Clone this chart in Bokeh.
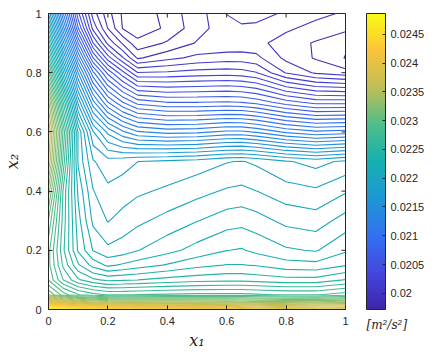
import numpy as np
from bokeh.plotting import figure
from bokeh.models import ColorBar, LinearColorMapper, FixedTicker
from bokeh.embed import file_html
from bokeh.resources import INLINE

# grid coordinates
x1 = [0.0, 0.05, 0.1, 0.15, 0.2, 0.25, 0.3, 0.4, 0.5, 0.6, 0.65, 0.7, 0.8, 0.9, 1.0]
x2 = [0.0, 0.025, 0.05, 0.1, 0.15, 0.2, 0.3, 0.4, 0.5, 0.6, 0.7, 0.8, 0.85, 0.9, 0.95, 1.0]

# field values (units of 1e-4 m^2/s^2), one list per x2 row
r100 = [219.0, 211.5, 205.0, 201.0, 199.2, 197.9, 197.2, 198.5, 199.3, 200.6, 201.2, 201.0, 200.4, 200.0, 199.6]
r095 = [221.5, 213.5, 206.5, 202.0, 199.7, 198.0, 197.5, 198.2, 199.4, 200.2, 200.3, 200.3, 199.9, 199.4, 199.1]
r090 = [224.0, 216.0, 209.0, 204.0, 201.2, 199.6, 198.3, 199.0, 199.8, 199.9, 199.95, 200.0, 199.3, 198.8, 198.2]
r085 = [226.5, 218.5, 211.5, 206.5, 203.5, 201.5, 199.6, 200.3, 200.8, 201.0, 201.0, 200.8, 199.5, 198.8, 198.0]
r080 = [229.3, 221.0, 214.0, 209.2, 206.2, 204.2, 202.3, 202.4, 202.6, 202.7, 202.6, 202.3, 200.5, 199.6, 199.2]
r070 = [234.5, 225.8, 218.0, 213.5, 210.7, 209.0, 207.8, 207.3, 207.3, 207.4, 207.3, 207.0, 206.0, 205.3, 205.3]
r060 = [237.0, 229.0, 221.5, 217.5, 215.5, 214.2, 213.3, 212.9, 213.0, 213.4, 213.4, 213.1, 212.2, 211.7, 211.9]
r050 = [236.0, 228.0, 221.5, 219.2, 218.6, 218.8, 219.1, 219.3, 219.5, 219.9, 220.0, 219.8, 219.2, 218.8, 219.3]
r040 = [233.0, 226.5, 222.3, 220.0, 219.3, 219.5, 219.8, 220.1, 220.5, 220.9, 221.0, 220.8, 220.3, 220.1, 220.7]
r030 = [230.8, 226.3, 222.8, 220.6, 219.9, 220.3, 220.6, 221.1, 221.6, 222.1, 222.2, 222.0, 221.4, 221.2, 222.0]
r020 = [229.5, 226.0, 223.2, 221.6, 221.0, 221.2, 221.6, 222.2, 222.8, 223.3, 223.4, 223.1, 222.6, 222.4, 223.2]
r015 = [229.5, 226.5, 224.3, 223.0, 222.3, 222.6, 222.9, 223.4, 223.9, 224.2, 224.2, 224.1, 223.7, 223.6, 224.1]
r010 = [230.0, 227.5, 226.0, 225.2, 224.8, 224.9, 225.0, 225.3, 225.5, 225.6, 225.6, 225.5, 225.3, 225.3, 225.9]
r005 = [232.5, 230.5, 229.3, 228.7, 228.3, 228.3, 228.4, 228.5, 228.6, 228.6, 228.6, 228.5, 228.3, 228.3, 228.8]
r0025 = [239.5, 237.5, 236.0, 235.2, 234.8, 234.6, 234.5, 234.4, 234.3, 234.2, 234.1, 234.0, 233.8, 233.7, 234.0]
r000 = [248.6, 247.5, 246.6, 245.9, 245.3, 244.8, 244.4, 243.5, 242.6, 241.7, 241.2, 240.8, 240.1, 239.6, 239.4]

cbar_ticks = [0.02, 0.0205, 0.021, 0.0215, 0.022, 0.0225, 0.023, 0.0235, 0.024, 0.0245]
cbar_labels = ["0.02", "0.0205", "0.021", "0.0215", "0.022", "0.0225", "0.023", "0.0235", "0.024", "0.0245"]
axis_ticks = [0, 0.2, 0.4, 0.6, 0.8, 1]
axis_labels = ["0", "0.2", "0.4", "0.6", "0.8", "1"]

z = np.array([r000, r0025, r005, r010, r015, r020, r030, r040, r050, r060, r070,
              r080, r085, r090, r095, r100]) * 1e-4

# parula-like palette
anchors = ['#3e26a8', '#4547e0', '#3272f0', '#1c98d6', '#16b0b0',
           '#4fbe8a', '#bfbe58', '#fbc33a', '#f9fb15']
def hex2rgb(h):
    return np.array([int(h[i:i + 2], 16) for i in (1, 3, 5)], dtype=float)
arr = np.array([hex2rgb(a) for a in anchors])
t_anchor = np.linspace(0, 1, len(anchors))
t = np.linspace(0, 1, 256)
palette = []
for ti in t:
    rgb = [np.interp(ti, t_anchor, arr[:, k]) for k in range(3)]
    palette.append('#%02x%02x%02x' % tuple(int(round(c)) for c in rgb))

lo, hi = float(z.min()), float(z.max())
levels = list(np.linspace(lo, hi, 62)[1:-1])
line_colors = [palette[int(np.clip((lv - lo) / (hi - lo), 0, 1) * 255)] for lv in levels]

p = figure(width=432, height=355, output_backend="svg", toolbar_location=None,
           x_range=(0, 1), y_range=(0, 1),
           min_border_left=48, min_border_top=13, min_border_bottom=46, min_border_right=87)
p.contour(x1, x2, z, levels, line_color=line_colors, line_width=1.1)

# inward tick marks on the top and right sides of the box
tick_len = 4.0 / 296
p.segment(x0=axis_ticks, y0=[1.0] * len(axis_ticks), x1=axis_ticks,
          y1=[1.0 - tick_len] * len(axis_ticks), line_color="#262626", line_width=1)
p.segment(x0=[1.0] * len(axis_ticks), y0=axis_ticks, x1=[1.0 - tick_len] * len(axis_ticks),
          y1=axis_ticks, line_color="#262626", line_width=1)

p.grid.visible = False
p.outline_line_color = "#262626"
p.outline_line_width = 1
for ax in (p.xaxis[0], p.yaxis[0]):
    ax.major_tick_in = 4
    ax.major_tick_out = 0
    ax.minor_tick_line_color = None
    ax.axis_line_color = "#262626"
    ax.major_tick_line_color = "#262626"
    ax.major_label_text_font = "Liberation Sans"
    ax.major_label_text_font_size = "11px"
    ax.major_label_text_color = "#262626"
    ax.major_label_standoff = 7
    ax.axis_label_text_font = "DejaVu Serif"
    ax.axis_label_text_font_style = "italic"
    ax.axis_label_text_font_size = "16px"
    ax.axis_label_text_color = "#262626"
    ax.ticker = FixedTicker(ticks=axis_ticks)
    ax.major_label_overrides = {tk: lb for tk, lb in zip(axis_ticks, axis_labels)}
p.xaxis[0].axis_label = "x₁"
p.yaxis[0].axis_label = "x₂"
p.xaxis[0].axis_label_standoff = 3
p.yaxis[0].axis_label_standoff = 1

mapper = LinearColorMapper(palette=palette, low=lo, high=hi)
cb = ColorBar(color_mapper=mapper, width=19, height=296, padding=0, margin=0,
              location=(318, 0),
              ticker=FixedTicker(ticks=cbar_ticks),
              major_label_overrides={tk: lb for tk, lb in zip(cbar_ticks, cbar_labels)},
              major_label_text_font="Liberation Sans", major_label_text_font_size="11px",
              major_label_text_color="#262626",
              major_tick_line_color="#262626", major_tick_in=3, major_tick_out=0,
              bar_line_color="#262626", minor_tick_line_color=None,
              label_standoff=5, background_fill_alpha=0, border_line_color=None)
p.add_layout(cb)

# unit text, drawn as the title of an invisible horizontal colour bar under the bar
unit_cb = ColorBar(color_mapper=mapper, orientation="horizontal", width=45, height=1,
                   padding=0, margin=0, location=(318, -23), title="[m²/s²]",
                   title_text_font="DejaVu Serif", title_text_font_style="italic",
                   title_text_font_size="12px", title_text_color="#262626",
                   title_standoff=0, scale_alpha=0, bar_line_color=None,
                   ticker=FixedTicker(ticks=[]), major_tick_line_color=None,
                   minor_tick_line_color=None,
                   background_fill_alpha=0, border_line_color=None)
p.add_layout(unit_cb)

open("out.html", "w").write(file_html(p, INLINE))
